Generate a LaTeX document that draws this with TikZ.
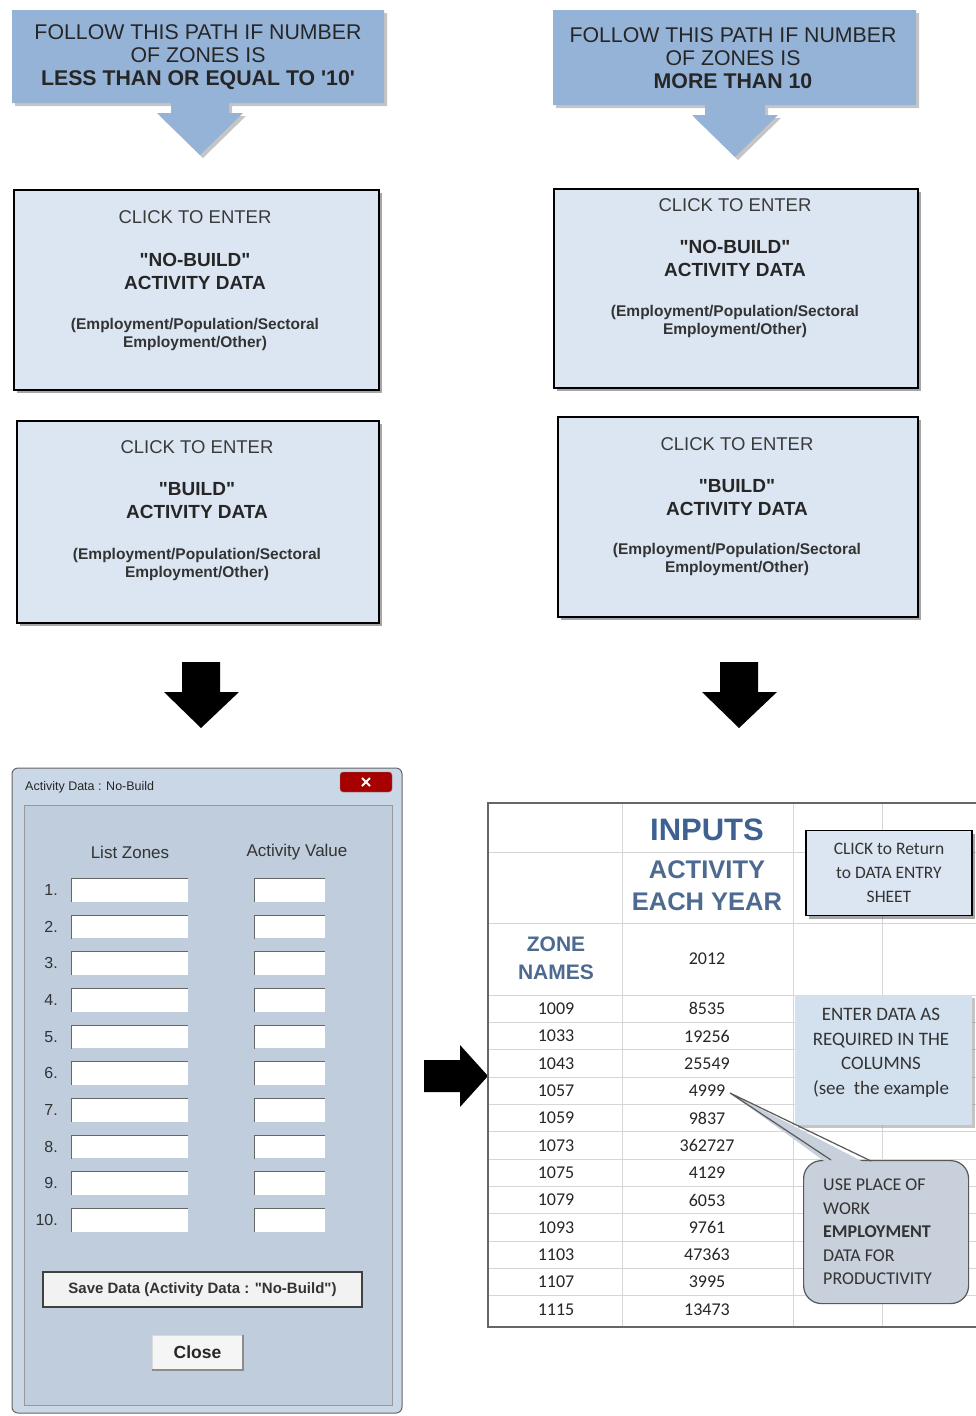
\documentclass[tikz,border=0pt]{standalone}
\usepackage{fontspec}
\setmainfont{Liberation Sans}[Ligatures=TeXOff]
\newfontfamily\calib{Carlito}[Ligatures=TeXOff]
\usetikzlibrary{shadows}
\definecolor{bannerblue}{HTML}{95B3D7}
\definecolor{boxblue}{HTML}{DCE6F2}
\definecolor{winframe}{HTML}{C9D7E6}
\definecolor{winpanel}{HTML}{BFCDDC}
\definecolor{gridgray}{HTML}{D6D6D6}
\definecolor{headblue}{HTML}{3F6191}
\definecolor{headblue2}{HTML}{4D6A90}
\definecolor{calloutgray}{HTML}{C8D0DB}
\definecolor{textgray}{HTML}{3A3A3A}
\definecolor{enterblue}{HTML}{D3E0EE}
\newcommand\fsz[2]{\fontsize{#1}{#2}\selectfont}
\begin{document}
\begin{tikzpicture}[x=1pt,y=-1pt,
  shadowed/.style={drop shadow={shadow xshift=3pt,shadow yshift=-3pt,fill=black,opacity=0.35}},
  softshadow/.style={drop shadow={shadow xshift=3pt,shadow yshift=-3pt,fill=gray,opacity=0.45}},
  bannerpath/.style={fill=bannerblue,softshadow},
  bannertext/.style={align=center,font=\fsz{21.3}{22.7},text=black!85,inner sep=0pt},
  clickbox/.style={draw=black,line width=1.6pt,fill=boxblue,shadowed,anchor=north west,inner sep=0pt},
  clicktitle/.style={font=\fsz{18.5}{20},text=textgray,inner sep=0pt},
  clickmain/.style={align=center,font=\fsz{19}{23}\bfseries,text=black!85,inner sep=0pt},
  clicksub/.style={align=center,font=\fsz{15.5}{18}\bfseries,text=black!80,inner sep=0pt},
  blackarrow/.style={fill=black},
  field/.style={fill=white,draw=none,anchor=north west,inner sep=0pt},
  fieldedge/.style={draw=black!60,line width=1pt},
  dlglabel/.style={font=\fsz{17}{19},text=black!80,inner sep=0pt},
  numlabel/.style={font=\fsz{16}{18},text=black!80,anchor=east,inner sep=0pt},
  cell/.style={font=\calib\fsz{18}{20},text=black!85,inner sep=0pt},
  gridline/.style={draw=gridgray,line width=0.8pt},
  note/.style={font=\calib\fsz{19}{24.6},text=black!80,align=center,inner sep=0pt}
]
\useasboundingbox (0,0) rectangle (976,1416);
\fill[white] (0,0) rectangle (976,1416);

% ---------- top banners ----------
\path[bannerpath] (12,10) -- (384,10) -- (384,103) -- (229,103) -- (229,113) -- (243,113)
  -- (200,155) -- (157,113) -- (171,113) -- (171,103) -- (12,103) -- cycle;
\node[bannertext] (bannerL) at (198,57) {FOLLOW THIS PATH IF NUMBER\\OF ZONES IS\\\textbf{LESS THAN OR EQUAL TO '10'}};

\path[bannerpath] (553,10) -- (916,10) -- (916,105) -- (765,105) -- (765,115) -- (778,115)
  -- (735,157) -- (692,115) -- (705,115) -- (705,105) -- (553,105) -- cycle;
\node[bannertext] (bannerR) at (733,58) {FOLLOW THIS PATH IF NUMBER\\OF ZONES IS\\\textbf{MORE THAN 10}};

% ---------- click boxes ----------
\node[clickbox,minimum width=365,minimum height=200] (nbL) at (13,189) {};
\node[clicktitle] (nbLt) at (195,217) {CLICK TO ENTER};
\node[clickmain] (nbLm) at (195,271.5) {"NO-BUILD"\\ACTIVITY DATA};
\node[clicksub] (nbLs) at (195,334) {(Employment/Population/Sectoral\\Employment/Other)};

\node[clickbox,minimum width=362,minimum height=202] (bL) at (16,420) {};
\node[clicktitle] (bLt) at (197,447) {CLICK TO ENTER};
\node[clickmain] (bLm) at (197,501) {"BUILD"\\ACTIVITY DATA};
\node[clicksub] (bLs) at (197,564) {(Employment/Population/Sectoral\\Employment/Other)};

\node[clickbox,minimum width=364,minimum height=199] (nbR) at (553,188) {};
\node[clicktitle] (nbRt) at (735,205) {CLICK TO ENTER};
\node[clickmain] (nbRm) at (735,258.5) {"NO-BUILD"\\ACTIVITY DATA};
\node[clicksub] (nbRs) at (735,321) {(Employment/Population/Sectoral\\Employment/Other)};

\node[clickbox,minimum width=360,minimum height=200] (bR) at (557,416) {};
\node[clicktitle] (bRt) at (737,444) {CLICK TO ENTER};
\node[clickmain] (bRm) at (737,498) {"BUILD"\\ACTIVITY DATA};
\node[clicksub] (bRs) at (737,559.5) {(Employment/Population/Sectoral\\Employment/Other)};

% ---------- black arrows ----------
\fill[blackarrow] (182,662) -- (220,662) -- (220,692) -- (239,692) -- (201,728) -- (164,692) -- (182,692) -- cycle;
\fill[blackarrow] (720,662) -- (758,662) -- (758,692) -- (777,692) -- (739,728) -- (702,692) -- (720,692) -- cycle;
\fill[blackarrow] (424,1060) -- (460,1060) -- (460,1045) -- (488,1076) -- (460,1107) -- (460,1092) -- (424,1092) -- cycle;

% ---------- dialog window ----------
\draw[fill=winframe,draw=black!60,line width=1pt,rounded corners=6] (12,768) rectangle (402,1413);
\node[font=\fsz{12.5}{14},text=black!85,anchor=west,inner sep=0pt] (dlgtitle) at (25,787) {Activity Data : No-Build};
\node[fill=red!65!black,draw=black!45,rounded corners=3,minimum width=52,minimum height=20,inner sep=0pt] (dlgclose) at (366,782) {};
\draw[white,line width=1.8pt] ([xshift=-4,yshift=-4]dlgclose.center) -- ([xshift=4,yshift=4]dlgclose.center)
  ([xshift=-4,yshift=4]dlgclose.center) -- ([xshift=4,yshift=-4]dlgclose.center);
\draw[fill=winpanel,draw=black!40,line width=0.8pt] (24,805) rectangle (392,1405);
\node[dlglabel] (lz) at (130,852) {List Zones};
\node[dlglabel] (av) at (297,852) {Activity Value};
\foreach \i in {1,...,10}{
  \pgfmathsetmacro\yy{890+(\i-1)*36.67}
  \node[numlabel] (n\i) at (58,\yy) {\i.};
  \node[field,minimum width=117,minimum height=23] (zf\i) at (71,\yy-11.5) {};
  \draw[fieldedge] (zf\i.south west) -- (zf\i.north west) -- (zf\i.north east);
  \node[field,minimum width=71,minimum height=23] (vf\i) at (254,\yy-11.5) {};
  \draw[fieldedge] (vf\i.south west) -- (vf\i.north west) -- (vf\i.north east);
}
\node[fill=black!5,draw=black!75,line width=1.5pt,minimum width=319,minimum height=35,inner sep=0pt,
  font=\fsz{15}{17}\bfseries,text=black!80] (savebtn) at (202.5,1289.5) {Save Data (Activity Data : "No-Build")};
\node[fill=black!4,draw=black!15,minimum width=91,minimum height=35,inner sep=0pt,
  font=\fsz{17.5}{19}\bfseries,text=black!85] (closebtn) at (197.5,1352.5) {Close};
\draw[black!45,line width=1.5pt] (closebtn.north east) -- (closebtn.south east) -- (closebtn.south west);

% ---------- spreadsheet ----------
\fill[white] (488,803) rectangle (976,1327);
\foreach \xx in {622,793,882}{ \draw[gridline] (\xx,803) -- (\xx,1327); }
\foreach \yy in {852,923}{ \draw[gridline] (488,\yy) -- (976,\yy); }
\foreach \k in {0,...,11}{ \draw[gridline] (488,{995+27.35*\k}) -- (976,{995+27.35*\k}); }
\draw[black!60,line width=1.6pt] (976,803) -- (488,803) -- (488,1327) -- (976,1327);

\node[font=\fsz{31}{33}\bfseries,text=headblue,inner sep=0pt] (inputs) at (707,830) {INPUTS};
\node[font=\fsz{25.5}{32}\bfseries,text=headblue2,align=center,inner sep=0pt] (actyear) at (707,886) {ACTIVITY\\EACH YEAR};
\node[font=\fsz{21}{28}\bfseries,text=headblue2,align=center,inner sep=0pt] (zonenames) at (556,958) {ZONE\\NAMES};
\node[cell] (yr) at (707,959) {2012};
\foreach \z/\v [count=\k from 0] in {1009/8535,1033/19256,1043/25549,1057/4999,1059/9837,1073/362727,1075/4129,1079/6053,1093/9761,1103/47363,1107/3995,1115/13473}{
  \node[cell] (z\z) at (556,{1008.7+27.35*\k}) {\z};
  \node[cell] (v\z) at (707,{1008.7+27.35*\k}) {\v};
}

% return box
\node[draw=black,line width=1.4pt,fill=boxblue,shadowed,minimum width=166,minimum height=85,inner sep=0pt,
  note,font=\calib\fsz{17.5}{24}] (retbox) at (889,873) {CLICK to Return\\to DATA ENTRY\\SHEET};

% enter data box
\node[fill=enterblue,softshadow,minimum width=177,minimum height=130,anchor=north west,inner sep=0pt] (enterbox) at (795,995) {};
\node[note] (entertext) at (881,1053) {ENTER DATA AS\\REQUIRED IN THE\\COLUMNS\\(see\ \ the example};

% callout
\node[fill=calloutgray,draw=black!65,line width=1.2pt,rounded corners=18,minimum width=165,minimum height=143,
  anchor=north west,inner sep=0pt] (callout) at (803,1160) {};
\coordinate (ptip) at (730,1093);
\fill[calloutgray] (ptip) -- (831,1166) -- (871,1166) -- cycle;
\draw[black!65,line width=1.2pt] (831,1160) -- (ptip) -- (871,1161);
\node[note,align=left,anchor=north west,font=\calib\fsz{18}{23.5}] (callouttext) at (823,1179) {USE PLACE OF\\WORK\\\textbf{EMPLOYMENT}\\DATA FOR\\PRODUCTIVITY};
\end{tikzpicture}
\end{document}
